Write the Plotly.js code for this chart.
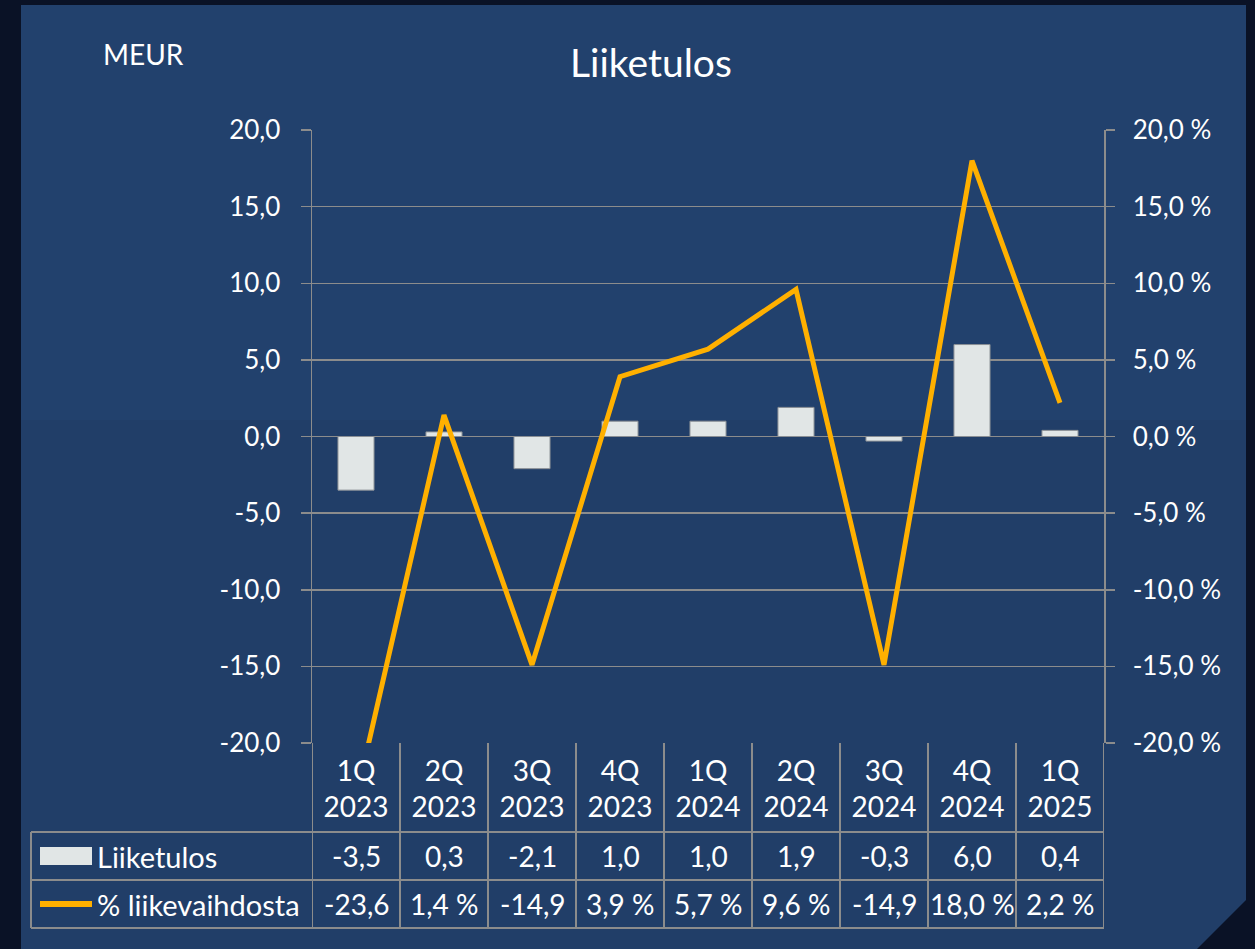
<!DOCTYPE html>
<html>
<head>
<meta charset="utf-8">
<script src="https://cdn.plot.ly/plotly-3.0.1.min.js"></script>
<style>
  html, body { margin: 0; padding: 0; background: #0a1226; }
  #chart { width: 1255px; height: 949px; }
</style>
</head>
<body>
<div id="chart"></div>
<script>
// ---- Data ----
const categories = ['1Q<br>2023', '2Q<br>2023', '3Q<br>2023', '4Q<br>2023', '1Q<br>2024', '2Q<br>2024', '3Q<br>2024', '4Q<br>2024', '1Q<br>2025'];
const liiketulos = [-3.5, 0.3, -2.1, 1.0, 1.0, 1.9, -0.3, 6.0, 0.4];
const liikevaihdostaPct = [-23.6, 1.4, -14.9, 3.9, 5.7, 9.6, -14.9, 18.0, 2.2];
const liiketulosLabels = ['-3,5', '0,3', '-2,1', '1,0', '1,0', '1,9', '-0,3', '6,0', '0,4'];
const pctLabels = ['-23,6', '1,4 %', '-14,9', '3,9 %', '5,7 %', '9,6 %', '-14,9', '18,0 %', '2,2 %'];
const leftTicks = [-20, -15, -10, -5, 0, 5, 10, 15, 20];
const rightTicks = [-20, -15, -10, -5, 0, 5, 10, 15, 20];
const seriesNames = ['Liiketulos', '% liikevaihdosta'];

// ---- Layout geometry ----
const W = 1255, H = 949;
const M = { l: 312, r: 151, t: 130, b: 206 };
const PW = W - M.l - M.r, PH = H - M.t - M.b;
const px = x => (x - M.l) / PW;
const py = y => (H - M.b - y) / PH;

const FONT = 'Lato, "Open Sans", sans-serif';
const GRID = '#8c8c8c';
const TXT = '#ffffff';
const TABLE_FS = 28;
const fmt = v => v.toFixed(1).replace('.', ',');

const traces = [
  {
    type: 'bar', name: seriesNames[0],
    x: categories, y: liiketulos,
    width: 0.41,
    marker: { color: '#e1e6e6', line: { color: '#8a8f95', width: 1 } },
    hoverinfo: 'skip'
  },
  {
    type: 'scatter', mode: 'lines', name: seriesNames[1],
    x: categories, y: liikevaihdostaPct, yaxis: 'y2',
    line: { color: '#ffb000', width: 5 },
    hoverinfo: 'skip'
  }
];

const shapes = [];
// outer panel with bevelled bottom-right corner
shapes.push({
  type: 'path', xref: 'paper', yref: 'paper', layer: 'below',
  path: `M ${px(21)} ${py(5)} L ${px(1246)} ${py(5)} L ${px(1246)} ${py(900)} L ${px(1197)} ${py(949)} L ${px(21)} ${py(949)} Z`,
  fillcolor: '#213e68', line: { width: 0 }
});
// subtle lighter band at top
shapes.push({
  type: 'rect', xref: 'paper', yref: 'paper', layer: 'below',
  x0: px(21), x1: px(1246), y0: py(420), y1: py(5),
  fillcolor: 'rgba(50,100,160,0.10)', line: { width: 0 }
});

// table vertical lines (category boundaries)
const rowTop = 743, row1 = 832, row2 = 880, rowBottom = 928;
for (let i = 0; i <= categories.length; i++) {
  shapes.push({
    type: 'line', xref: 'x', yref: 'paper',
    x0: i - 0.5, x1: i - 0.5, y0: py(rowTop), y1: py(rowBottom),
    line: { color: GRID, width: 2 }
  });
}
// table horizontal lines
[row1, row2, rowBottom].forEach(y => {
  shapes.push({
    type: 'line', xref: 'paper', yref: 'paper',
    x0: px(31), x1: 1, y0: py(y), y1: py(y),
    line: { color: GRID, width: 2 }
  });
});
// left border of legend cells
shapes.push({
  type: 'line', xref: 'paper', yref: 'paper',
  x0: px(31), x1: px(31), y0: py(row1), y1: py(rowBottom),
  line: { color: GRID, width: 2 }
});
// legend keys
shapes.push({
  type: 'rect', xref: 'paper', yref: 'paper',
  x0: px(40), x1: px(92), y0: py(865), y1: py(847),
  fillcolor: '#e1e6e6', line: { width: 0 }
});
shapes.push({
  type: 'line', xref: 'paper', yref: 'paper',
  x0: px(40), x1: px(92), y0: py(904), y1: py(904),
  line: { color: '#ffb000', width: 6 }
});

const annotations = [];
annotations.push({
  text: 'Liiketulos', xref: 'paper', yref: 'paper',
  x: px(651), y: py(62), xanchor: 'center', yanchor: 'middle',
  showarrow: false, font: { family: FONT, size: 39, color: TXT }
});
annotations.push({
  text: 'MEUR', xref: 'paper', yref: 'paper',
  x: px(101), y: py(54), xanchor: 'left', yanchor: 'middle',
  showarrow: false, font: { family: FONT, size: 28, color: TXT }
});
annotations.push({
  text: seriesNames[0], xref: 'paper', yref: 'paper',
  x: px(95), y: py(856), xanchor: 'left', yanchor: 'middle',
  showarrow: false, font: { family: FONT, size: 29, color: TXT }
});
annotations.push({
  text: seriesNames[1], xref: 'paper', yref: 'paper',
  x: px(95), y: py(904), xanchor: 'left', yanchor: 'middle',
  showarrow: false, font: { family: FONT, size: 29, color: TXT }
});
categories.forEach((c, i) => {
  annotations.push({
    text: liiketulosLabels[i], xref: 'x', yref: 'paper',
    x: i, y: py(856), xanchor: 'center', yanchor: 'middle',
    showarrow: false, font: { family: FONT, size: TABLE_FS, color: TXT }
  });
  annotations.push({
    text: pctLabels[i], xref: 'x', yref: 'paper',
    x: i, y: py(904), xanchor: 'center', yanchor: 'middle',
    showarrow: false, font: { family: FONT, size: TABLE_FS, color: TXT }
  });
});

const layout = {
  width: W, height: H,
  margin: M,
  paper_bgcolor: '#0a1226',
  plot_bgcolor: 'rgba(0,0,0,0)',
  showlegend: false,
  font: { family: FONT, color: TXT, size: 26 },
  xaxis: {
    type: 'category',
    range: [-0.5, categories.length - 0.5],
    showgrid: false, zeroline: false, showline: false,
    ticks: '', ticklabelstandoff: 9,
    tickfont: { family: FONT, size: TABLE_FS, color: TXT },
    fixedrange: true
  },
  yaxis: {
    range: [-20, 20],
    tickvals: leftTicks, ticktext: leftTicks.map(fmt),
    showgrid: true, gridcolor: GRID, gridwidth: 1.5,
    zeroline: false,
    showline: true, linecolor: GRID, linewidth: 1.5,
    ticks: 'outside', ticklen: 10, tickcolor: GRID, tickwidth: 1.5,
    ticklabelstandoff: 15,
    tickfont: { family: FONT, size: 26, color: TXT },
    fixedrange: true
  },
  yaxis2: {
    overlaying: 'y', side: 'right',
    range: [-20, 20],
    tickvals: rightTicks, ticktext: rightTicks.map(v => fmt(v) + ' %'),
    showgrid: false, zeroline: false,
    showline: true, linecolor: GRID, linewidth: 1.5,
    ticks: 'outside', ticklen: 9, tickcolor: GRID, tickwidth: 1.5,
    ticklabelstandoff: 13,
    tickfont: { family: FONT, size: 26, color: TXT },
    fixedrange: true
  },
  shapes: shapes,
  annotations: annotations
};

Plotly.newPlot('chart', traces, layout, { displayModeBar: false, staticPlot: true });
</script>
</body>
</html>
